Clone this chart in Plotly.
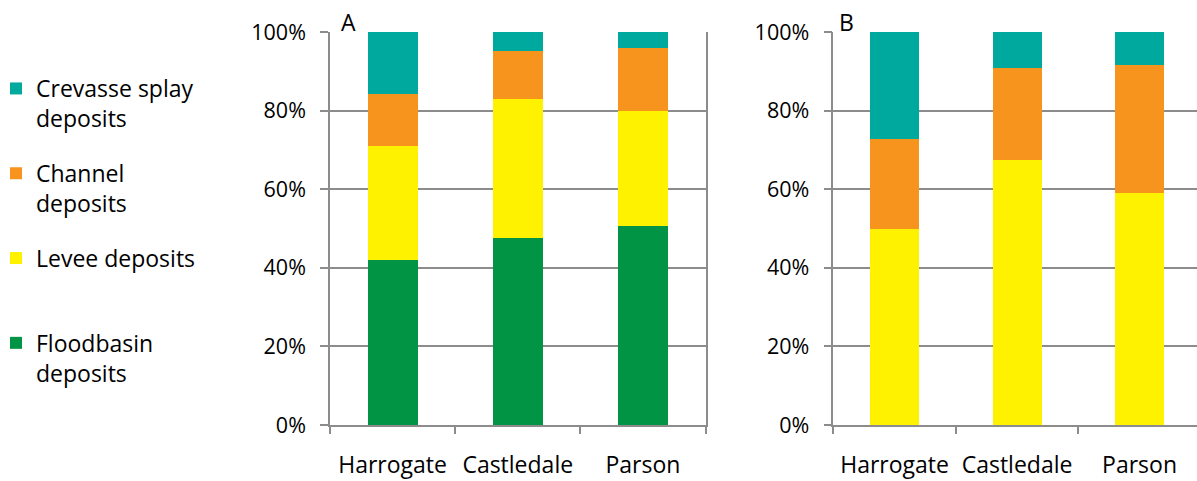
import plotly.graph_objects as go

# Sites along the x axis
sites = ["Harrogate", "Castledale", "Parson"]

# Facies proportions (%) for panel A
a_floodbasin = [42.1, 47.6, 50.6]
a_levee = [28.9, 35.4, 29.2]
a_channel = [13.2, 12.2, 16.1]
a_crevasse = [15.8, 4.8, 4.1]

# Facies proportions (%) for panel B
b_floodbasin = [0.0, 0.0, 0.0]
b_levee = [49.9, 67.4, 59.0]
b_channel = [22.9, 23.4, 32.7]
b_crevasse = [27.2, 9.2, 8.3]

names = ["Floodbasin<br>deposits", "Levee deposits<br> ", "Channel<br>deposits", "Crevasse splay<br>deposits"]
colors = ["#009444", "#FFF200", "#F7941D", "#00A99D"]

W, H = 1197, 481
FONT = "Open Sans"
GRID = "#8c8c8c"

fig = go.Figure()
panel_a = [a_floodbasin, a_levee, a_channel, a_crevasse]
panel_b = [b_floodbasin, b_levee, b_channel, b_crevasse]
for i in range(4):
    # top of the stack is listed first in the legend
    fig.add_trace(go.Bar(x=sites, y=panel_a[i], name=names[i], marker_color=colors[i],
                         marker_line_width=0, xaxis="x", yaxis="y",
                         legendgroup=str(i), legendrank=100 - i, showlegend=True))
for i in range(4):
    fig.add_trace(go.Bar(x=sites, y=panel_b[i], name=names[i], marker_color=colors[i],
                         marker_line_width=0, xaxis="x2", yaxis="y2",
                         legendgroup=str(i), legendrank=100 - i, showlegend=False))

xcommon = dict(type="category", tickson="boundaries", ticks="outside", ticklen=7,
               tickwidth=1.5, tickcolor=GRID, showline=True, linecolor=GRID, linewidth=1.5,
               showgrid=False, tickfont=dict(family=FONT, size=23, color="#000"),
               ticklabelstandoff=19, fixedrange=True)
ycommon = dict(range=[0, 100], tick0=0, dtick=20, ticksuffix="%", ticks="outside",
               ticklen=8, tickwidth=1.5, tickcolor=GRID, showline=True, linecolor=GRID,
               linewidth=1.5, showgrid=True, gridcolor=GRID, gridwidth=1.5, zeroline=False,
               tickfont=dict(family=FONT, size=21.5, color="#000"), ticklabelstandoff=10,
               fixedrange=True)

fig.update_layout(
    width=W, height=H,
    margin=dict(l=0, r=0, t=32, b=56, autoexpand=False),
    barmode="stack", bargap=0.6,
    plot_bgcolor="white", paper_bgcolor="white",
    xaxis=dict(xcommon, domain=[330 / W, 705.5 / W], anchor="y", range=[-0.5, 2.5]),
    yaxis=dict(ycommon, anchor="x", mirror=True),
    xaxis2=dict(xcommon, domain=[833.3 / W, 1.0], anchor="y2", range=[-0.5, 2.469]),
    yaxis2=dict(ycommon, anchor="x2"),
    legend=dict(traceorder="grouped", x=-4 / W, xanchor="left", y=1 - 35 / 393,
                yanchor="top", valign="top", tracegroupgap=22,
                font=dict(family=FONT, size=23, color="#000"), bgcolor="rgba(0,0,0,0)"),
    annotations=[
        dict(text="A", x=348 / W, y=(425 - 22) / 393, xref="paper", yref="paper",
             showarrow=False, xanchor="center", yanchor="middle",
             font=dict(family=FONT, size=23, color="#000")),
        dict(text="B", x=846 / W, y=(425 - 22) / 393, xref="paper", yref="paper",
             showarrow=False, xanchor="center", yanchor="middle",
             font=dict(family=FONT, size=23, color="#000")),
    ],
)

fig.write_html("out.html")
